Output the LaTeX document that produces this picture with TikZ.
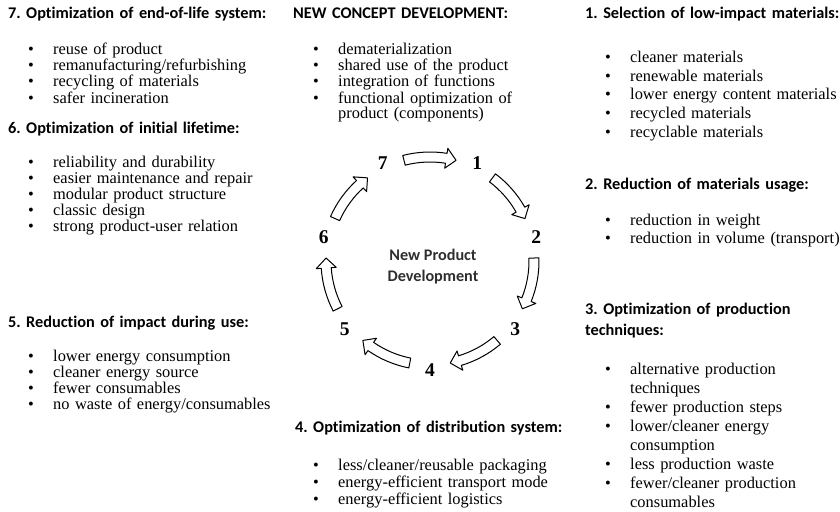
\documentclass[tikz,border=0pt]{standalone}
\usepackage{fontspec}
\setmainfont{Liberation Serif}
\newfontfamily\headfont{Carlito}[Ligatures=NoCommon]
\newcommand\itemdot{\makebox[25pt][l]{\textbullet}}
\newcommand\itemgap{\hspace*{25pt}}
\frenchspacing

\tikzset{
	head/.style={anchor=base west, inner sep=0pt, text width=300pt, align=left,
		font=\headfont\bfseries\fontsize{16.3}{21}\selectfont},
	body/.style={anchor=base west, inner sep=0pt, text width=300pt, align=left,
		font=\fontsize{16.4}{16}\selectfont},
	num/.style={inner sep=0pt, font=\bfseries\fontsize{19.5}{20}\selectfont},
	centre/.style={inner sep=0pt, align=center, text=black!82,
		font=\headfont\bfseries\fontsize{16.2}{21}\selectfont},
	cyclearrow/.style={draw=black, fill=white, line width=1pt, line join=round}
}

\begin{document}
\begin{tikzpicture}[x=1pt, y=-1pt]
		\useasboundingbox (0, 0) rectangle (840, 511);
		
		%%%%% LEFT COLUMN %%%%%
		\node[head] (h7) at (8, 19) {7. Optimization of end-of-life system:};
		\node[body] (l7) at (28, 55) {\itemdot reuse of product\\
			\itemdot remanufacturing/refurbishing\\
			\itemdot recycling of materials\\
			\itemdot safer incineration};
		
		\node[head] (h6) at (8, 133) {6. Optimization of initial lifetime:};
		\node[body] (l6) at (28, 167) {\itemdot reliability and durability\\
			\itemdot easier maintenance and repair\\
			\itemdot modular product structure\\
			\itemdot classic design\\
			\itemdot strong product-user relation};
		
		\node[head] (h5) at (8, 327) {5. Reduction of impact during use:};
		\node[body] (l5) at (28, 361) {\itemdot lower energy consumption\\
			\itemdot cleaner energy source\\
			\itemdot fewer consumables\\
			\itemdot no waste of energy/consumables};
		
		%%%%% MIDDLE COLUMN %%%%%
		\node[head] (hnc) at (293, 19) {NEW CONCEPT DEVELOPMENT:};
		\node[body] (lnc) at (313, 55) {\itemdot dematerialization\\
			\itemdot shared use of the product\\
			\itemdot integration of functions\\
			\itemdot functional optimization of\\
			\itemgap product (components)};
		
		\node[head] (h4) at (295, 432) {4. Optimization of distribution system:};
		\node[body, font=\fontsize{16.4}{17}\selectfont] (l4) at (313, 470) {\itemdot less/cleaner/reusable packaging\\
			\itemdot energy-efficient transport mode\\
			\itemdot energy-efficient logistics};
		
		%%%%% RIGHT COLUMN %%%%%
		\node[head] (h1) at (585, 19) {1. Selection of low-impact materials:};
		\node[body, font=\fontsize{16.4}{18.5}\selectfont] (l1) at (605, 63) {\itemdot cleaner materials\\
			\itemdot renewable materials\\
			\itemdot lower energy content materials\\
			\itemdot recycled materials\\
			\itemdot recyclable materials};
		
		\node[head] (h2) at (585, 189) {2. Reduction of materials usage:};
		\node[body, font=\fontsize{16.4}{18}\selectfont] (l2) at (605, 225) {\itemdot reduction in weight\\
			\itemdot reduction in volume (transport)};
		
		\node[head] (h3) at (585, 314) {3. Optimization of production\\techniques:};
		\node[body, font=\fontsize{16.4}{19}\selectfont] (l3) at (605, 374) {\itemdot alternative production\\
			\itemgap techniques\\
			\itemdot fewer production steps\\
			\itemdot lower/cleaner energy\\
			\itemgap consumption\\
			\itemdot less production waste\\
			\itemdot fewer/cleaner production\\
			\itemgap consumables};
		
		%%%%% CYCLE %%%%%
		\begin{scope}[shift={(430, 261)}]
			\node[centre] (npd) at (3, 6) {New Product\\Development};
			\foreach \k in {1,...,7} {
				\node[num] (n\k) at ({90+(\k-4)*51.43}:109) {\k};
				% block arrow from step \k to the next one
				\pgfmathsetmacro\arTail{90+(\k-3.5)*51.43-14.5}
				\pgfmathsetmacro\arBase{90+(\k-3.5)*51.43+9}
				\pgfmathsetmacro\arTip{90+(\k-3.5)*51.43+14.5}
				\draw[cyclearrow] (\arTail:99) arc[start angle=\arTail, end angle=\arBase, radius=99]
					-- (\arBase:94) -- (\arTip:104) -- (\arBase:114) -- (\arBase:109)
					arc[start angle=\arBase, end angle=\arTail, radius=109] -- cycle;
			}
		\end{scope}
	\end{tikzpicture}
\end{document}
